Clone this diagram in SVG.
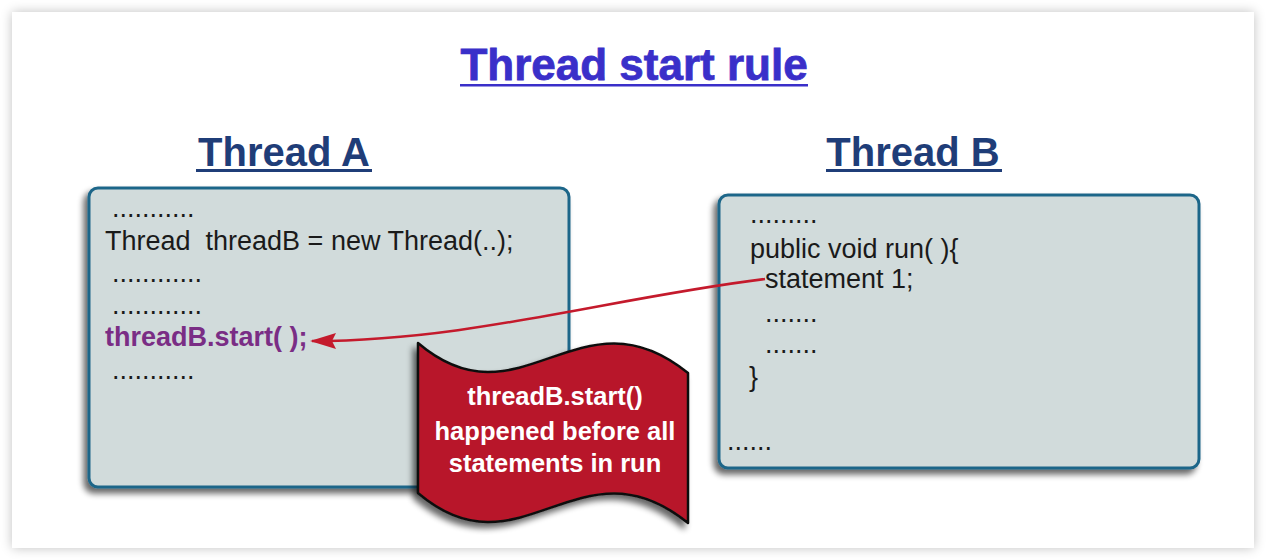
<svg xmlns="http://www.w3.org/2000/svg" width="1266" height="560" viewBox="0 0 1266 560">
<defs>
<filter id="cardShadow" x="-5%" y="-5%" width="110%" height="110%">
<feGaussianBlur in="SourceAlpha" stdDeviation="6"/>
<feComponentTransfer><feFuncA type="linear" slope="0.25"/></feComponentTransfer>
<feMerge><feMergeNode/><feMergeNode in="SourceGraphic"/></feMerge>
</filter>
<filter id="boxShadow" x="-10%" y="-10%" width="120%" height="125%">
<feGaussianBlur in="SourceAlpha" stdDeviation="3"/>
<feOffset dx="-4" dy="5" result="o"/>
<feComponentTransfer><feFuncA type="linear" slope="0.6"/></feComponentTransfer>
<feMerge><feMergeNode/><feMergeNode in="SourceGraphic"/></feMerge>
</filter>
<marker id="arrow" markerWidth="26" markerHeight="16" refX="24" refY="8" orient="auto" markerUnits="userSpaceOnUse" viewBox="0 0 26 16">
<path d="M0,0 L26,8 L0,16 L4,8 Z" fill="#c41a2c"/>
</marker>
<style>
.title{font-family:"Liberation Sans",Arial,sans-serif;font-weight:bold;font-size:44px;fill:#3a2fc9;stroke:#3a2fc9;stroke-width:0.8;}
.head{font-family:"Liberation Sans",Arial,sans-serif;font-weight:bold;font-size:40px;fill:#1f3d78;}
.box{fill:#d1dbdb;stroke:#1e6689;stroke-width:3;}
.code{font-family:"Liberation Sans",Arial,sans-serif;font-size:27px;fill:#1a1a1a;}
.hl{font-family:"Liberation Sans",Arial,sans-serif;font-size:27px;font-weight:bold;fill:#7a2d85;}
.ban{font-family:"Liberation Sans",Arial,sans-serif;font-size:25.5px;font-weight:bold;fill:#ffffff;}
</style>
</defs>
<rect x="0" y="0" width="1266" height="560" fill="#ffffff"/>
<rect x="12" y="12" width="1242" height="536" fill="#ffffff" filter="url(#cardShadow)"/>

<g id="title">
<text class="title" x="634" y="80" text-anchor="middle">Thread start rule</text>
<rect x="460" y="84" width="348" height="2.5" fill="#3a2fc9"/>
</g>

<g id="thread-a-label">
<text class="head" x="284" y="166" text-anchor="middle">Thread A</text>
<rect x="196" y="169" width="176" height="3" fill="#1f3d78"/>
</g>
<g id="thread-b-label">
<text class="head" x="913" y="166" text-anchor="middle">Thread B</text>
<rect x="826" y="169" width="176" height="3" fill="#1f3d78"/>
</g>

<g id="thread-a">
<rect class="box" x="89" y="188" width="480" height="299" rx="9" filter="url(#boxShadow)"/>
<text class="code" x="112" y="217">...........</text>
<text class="code" x="105" y="250" xml:space="preserve">Thread  threadB = new Thread(..);</text>
<text class="code" x="112" y="282">............</text>
<text class="code" x="112" y="314">............</text>
<text class="hl" x="105" y="346">threadB.start( );</text>
<text class="code" x="112" y="379">...........</text>
</g>

<g id="thread-b">
<rect class="box" x="719" y="195" width="480" height="273" rx="9" filter="url(#boxShadow)"/>
<text class="code" x="750" y="223">.........</text>
<text class="code" x="750" y="258">public void run( ){</text>
<text class="code" x="765" y="288">statement 1;</text>
<text class="code" x="765" y="322">.......</text>
<text class="code" x="765" y="353">.......</text>
<text class="code" x="749" y="386">}</text>
<text class="code" x="727" y="450">......</text>
</g>

<g id="connectors">
<path d="M765,279 C610,298 470,341 312,341" fill="none" stroke="#c41a2c" stroke-width="2.5" marker-end="url(#arrow)"/>
</g>

<g id="note">
<path d="M418,343 C520,430 580,285 688,373 L688,523 C580,435 520,580 418,493 Z" fill="#b8182a" stroke="#111111" stroke-width="2.5" stroke-linejoin="round" filter="url(#boxShadow)"/>
<text class="ban" x="555" y="405" text-anchor="middle">threadB.start()</text>
<text class="ban" x="555" y="440" text-anchor="middle">happened before all</text>
<text class="ban" x="555" y="472" text-anchor="middle">statements in run</text>
</g>
</svg>
